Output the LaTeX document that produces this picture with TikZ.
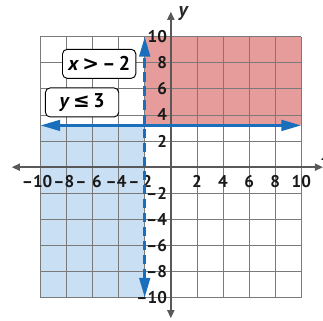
\documentclass[tikz,border=0pt]{standalone}
\usepackage{fontspec}
\setmainfont{PT Sans}
\newfontfamily\symf{DejaVu Sans}
\usetikzlibrary{arrows.meta}
\definecolor{axisgray}{HTML}{595959}
\definecolor{gridgray}{HTML}{7A7A7A}
\definecolor{redfill}{HTML}{E59C9B}
\definecolor{bluefill}{HTML}{C9DFF3}
\definecolor{blueline}{HTML}{1A6FBD}
\tikzset{
  gridline/.style={draw=gridgray, line width=0.7pt},
  axisline/.style={draw=axisgray, line width=1.6pt, {Triangle[length=7pt,width=6pt]}-{Triangle[length=7pt,width=6pt]}},
  bdry/.style={draw=blueline, line width=2.6pt, {Triangle[length=17pt,width=9pt]}-{Triangle[length=17pt,width=9pt]}},
  tick/.style={font=\fontsize{14.5}{15}\selectfont\bfseries, text=black!90, inner sep=0pt},
  eqbox/.style={draw=black, line width=0.8pt, fill=white, rounded corners=4pt, minimum width=2.2cm, minimum height=0.87cm, inner sep=1pt, font=\fontsize{17}{18}\selectfont\bfseries},
  axlabel/.style={font=\fontsize{17}{18}\selectfont\bfseries\itshape, text=black!85, inner sep=0pt}
}
\begin{document}
\begin{tikzpicture}[x=0.3915cm,y=0.3915cm]
\useasboundingbox (-13.09,-11.71) rectangle (11.66,12.81);
\fill[bluefill] (-10,-10) rectangle (-2,3.2);
\fill[redfill] (-2,3.2) rectangle (10,10);
\draw[gridline, step=2] (-10,-10) grid (10,10);
\coordinate (xl) at (-12.19,0);
\coordinate (xr) at (11.66,0);
\coordinate (yt) at (0,11.92);
\coordinate (yb) at (0,-11.58);
\draw[axisline] (xl) -- (xr);
\draw[axisline] (yb) -- (yt);
\node[axlabel] (ylab) at (0.95,11.75) {y};
\node[axlabel] (xlab) at (11.95,0.9) {x};
% tick labels
\foreach \v in {2,4,6,8,10}{
  \node[tick] (xp\v) at (\v,-1.07) {\v};
  \node[tick, anchor=east] (yp\v) at (-0.28,\v) {\v};
  \node[tick, anchor=east] (yn\v) at (-0.28,-\v) {–\v};
}
\node[tick] (xn10) at (-10.25,-1.07) {–10};
\node[tick] (xn8) at (-8.2,-1.07) {–8};
\node[tick] (xn6) at (-6.3,-1.07) {–\,\,6};
\node[tick] (xn4) at (-4.2,-1.07) {–4};
\node[tick] (xn2) at (-2.35,-1.07) {–\,2};
% boundary lines
\coordinate (hl) at (-10,3.2);
\coordinate (hr) at (10,3.2);
\coordinate (vb) at (-2,-10);
\coordinate (vt) at (-2,10);
\draw[bdry] (hl) -- (hr);
\draw[bdry, dash pattern=on 8pt off 4pt] (vb) -- (vt);
% boxes
\node[eqbox] (ineqx) at (-5.49,7.92) {\textit{x}\,{\symf\bfseries >}\,–\,2};
\node[eqbox] (ineqy) at (-6.80,4.96) {\textit{y}\,{\symf\bfseries ≤}\,3};
\end{tikzpicture}
\end{document}
